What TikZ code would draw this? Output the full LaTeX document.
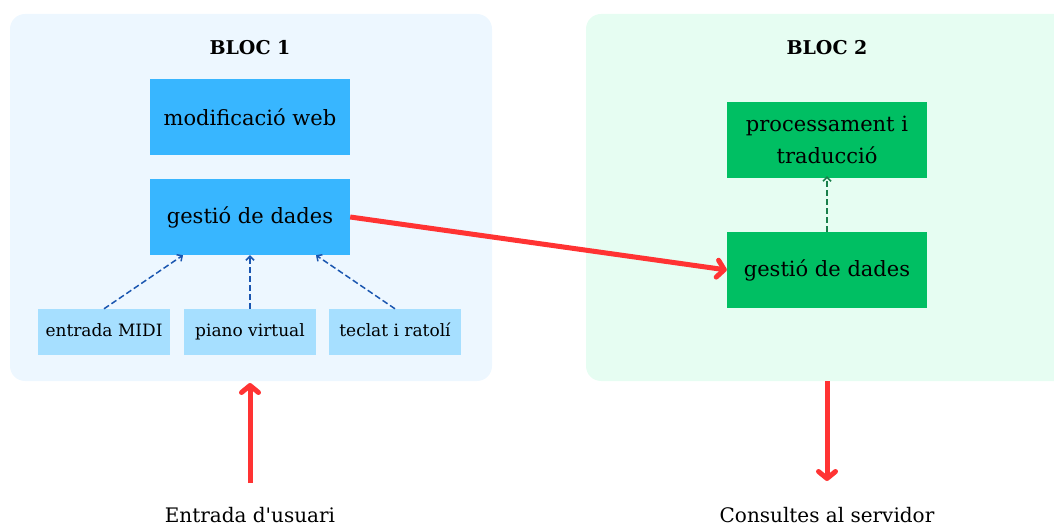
\documentclass[tikz,border=0pt]{standalone}
\usepackage{fontspec}
\setmainfont{DejaVu Serif}
\usetikzlibrary{arrows.meta}
\definecolor{panelA}{HTML}{EDF7FF}
\definecolor{panelB}{HTML}{E6FDF2}
\definecolor{boxA}{HTML}{38B6FF}
\definecolor{boxAl}{HTML}{A6DFFF}
\definecolor{boxB}{HTML}{00BF63}
\definecolor{dashA}{HTML}{1A56B0}
\definecolor{dashB}{HTML}{1A7F4B}
\definecolor{redarr}{HTML}{FF3333}
\tikzset{
  bigbox/.style={draw=none, minimum width=200pt, minimum height=76pt, align=center, inner sep=0pt, font=\fontsize{21}{32}\selectfont},
  smallbox/.style={draw=none, fill=boxAl, minimum width=132pt, minimum height=46pt, inner sep=0pt, text height=13pt, text depth=4pt, font=\fontsize{17}{20}\selectfont},
  title/.style={font=\bfseries\fontsize{19}{22}\selectfont},
  label/.style={font=\fontsize{20}{24}\selectfont},
  dashbl/.style={draw=dashA, dash pattern=on 6pt off 3pt, line width=1.5pt, -{Straight Barb[length=4pt,width=8pt]}},
  dashgr/.style={draw=dashB, dash pattern=on 6pt off 3pt, line width=1.5pt, -{Straight Barb[length=4pt,width=8pt]}},
  redarrow/.style={draw=redarr, line width=5pt, -{Straight Barb[round,length=7pt,width=17pt]}}
}
\begin{document}
\begin{tikzpicture}[x=1pt,y=-1pt]
\useasboundingbox (0,0) rectangle (1054,526);
\fill[panelA, rounded corners=15pt] (10,14) rectangle (492,381);
\fill[panelB, rounded corners=15pt] (586,14) rectangle (1080,381);
\node[title] (t1) at (250,48) {BLOC 1};
\node[title] (t2) at (827,48) {BLOC 2};
\node[bigbox, fill=boxA] (web) at (250,117.5) {modificació web};
\node[bigbox, fill=boxA] (gd1) at (250,217) {gestió de dades};
\node[smallbox] (midi) at (104,332) {entrada MIDI};
\node[smallbox] (piano) at (250,332) {piano virtual};
\node[smallbox] (teclat) at (395,332) {teclat i ratolí};
\node[bigbox, fill=boxB] (proc) at (827,140) {processament i\\traducció};
\node[bigbox, fill=boxB] (gd2) at (827,270) {gestió de dades};
\draw[dashbl] (midi.north) -- ([xshift=-67pt]gd1.south);
\draw[dashbl] (piano.north) -- (gd1.south);
\draw[dashbl] (teclat.north) -- ([xshift=66pt]gd1.south);
\draw[dashgr] (gd2.north) -- ([yshift=2pt]proc.south);
\draw[redarrow] (gd1.east) -- (gd2.west);
\coordinate (inS) at (250,483);
\coordinate (inE) at (250,383);
\coordinate (outS) at (827,381);
\coordinate (outE) at (827,481);
\draw[redarrow] (inS) -- (inE);
\draw[redarrow] (outS) -- (outE);
\node[label] (lin) at (250,515) {Entrada d\textquotesingle usuari};
\node[label] (lout) at (827,515) {Consultes al servidor};
\end{tikzpicture}
\end{document}
